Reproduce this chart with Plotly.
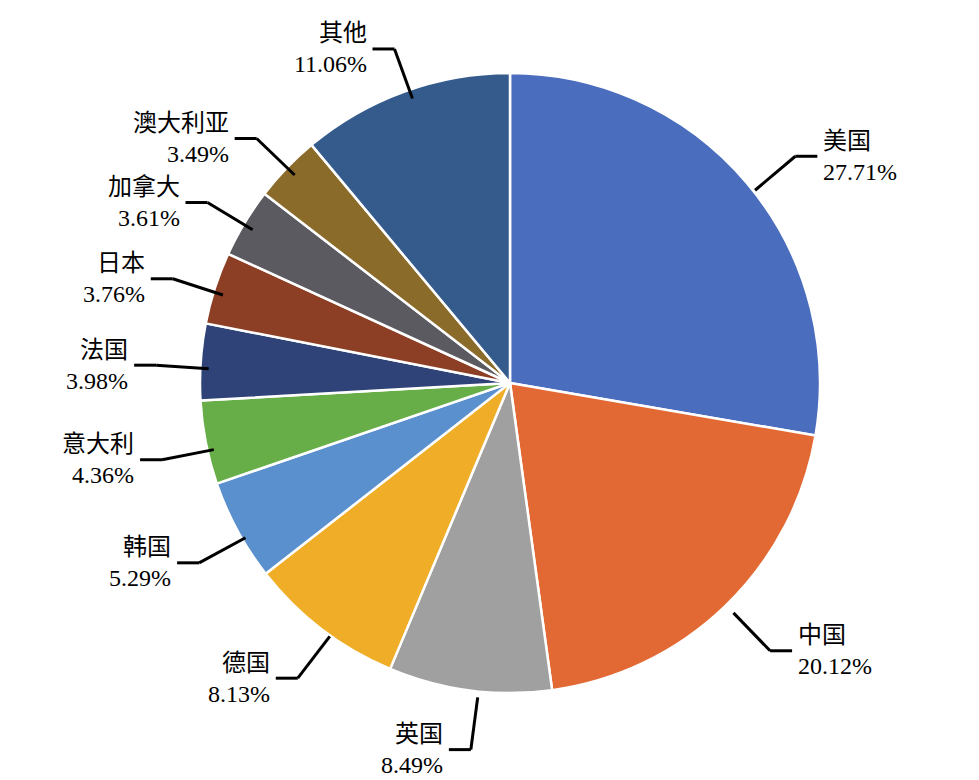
import math
import plotly.graph_objects as go

labels = ["美国", "中国", "英国", "德国", "韩国", "意大利", "法国", "日本", "加拿大", "澳大利亚", "其他"]
values = [27.71, 20.12, 8.49, 8.13, 5.29, 4.36, 3.98, 3.76, 3.61, 3.49, 11.06]
colors = ["#4A6DBE", "#E26934", "#A0A0A0", "#F0AD28", "#5B90CE", "#67AE49",
          "#2F4379", "#8D3F26", "#5A5A60", "#8B6B2A", "#355B8D"]

W, H = 979, 780
cx, cy, R = 510, 382, 310
dx, dy = -8, -7  # domain correction
FONT = "Liberation Serif, Noto Sans CJK SC"

fig = go.Figure(go.Pie(
    labels=labels, values=values, sort=False, direction="clockwise", rotation=0,
    marker=dict(colors=colors, line=dict(color="white", width=2.5)),
    textinfo="none", hoverinfo="skip", showlegend=False,
    domain=dict(x=[(cx + dx - R) / W, (cx + dx + R) / W],
                y=[(H - cy - dy - R) / H, (H - cy - dy + R) / H]),
))

total = sum(values)
cum = 0
shapes, annos = [], []
for lab, v in zip(labels, values):
    mid = (cum + v / 2) / total * 2 * math.pi
    cum += v
    s, c = math.sin(mid), math.cos(mid)
    x0, y0 = cx + R * s, cy - R * c
    x1, y1 = cx + R * 1.17 * s, cy - R * 1.17 * c
    side = 1 if s >= 0 else -1
    x2 = x1 + side * 22
    for (a, b, d, e) in [(x0, y0, x1, y1), (x1, y1, x2, y1)]:
        shapes.append(dict(type="line", xref="x", yref="y", x0=a, y0=H - b, x1=d, y1=H - e,
                           line=dict(color="black", width=3)))
    annos.append(dict(x=x2 + side * 4, y=H - y1, xref="x", yref="y",
                      text=f"{lab}<br>{v:.2f}%", showarrow=False,
                      xanchor="left" if side > 0 else "right", yanchor="middle",
                      align="left" if side > 0 else "right",
                      font=dict(size=24, color="black", family=FONT)))

fig.update_layout(
    width=W, height=H, margin=dict(l=0, r=0, t=0, b=0),
    paper_bgcolor="white", plot_bgcolor="rgba(0,0,0,0)",
    xaxis=dict(range=[0, W], visible=False, fixedrange=True),
    yaxis=dict(range=[0, H], visible=False, fixedrange=True),
    shapes=shapes, annotations=annos,
)
fig.write_html("out.html")
